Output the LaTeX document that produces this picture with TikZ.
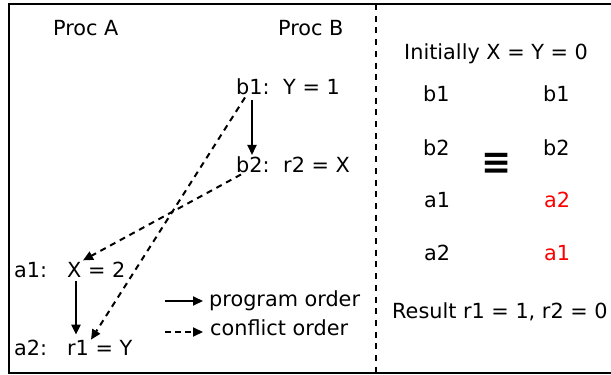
\documentclass[tikz,border=0pt]{standalone}
\usepackage{fontspec}
\setmainfont{DejaVu Sans}
\usetikzlibrary{arrows.meta}
\definecolor{redord}{RGB}{255,0,0}
\begin{document}
\begin{tikzpicture}[x=1pt,y=-1pt,
  txt/.style={inner sep=0pt,anchor=base west,font=\fontsize{20.8}{24}\selectfont},
  prog/.style={line width=2pt,-{Triangle[length=10pt,width=9pt]}},
  conf/.style={line width=2pt,dash pattern=on 6pt off 5pt,-{Triangle[length=10pt,width=9pt]}},
  frame/.style={line width=2.4pt},
  sep/.style={line width=2pt,dash pattern=on 6pt off 5.7pt}]
\useasboundingbox (0,0) rectangle (611,375);
\clip (0,0) rectangle (611,375);
\draw[frame] (9,4) rectangle (625,373);
\draw[sep] (376,4) -- (376,373);
% left panel
\node[txt] (pa) at (53,35) {Proc A};
\node[txt] (pb) at (278,35) {Proc B};
\node[txt] (b1l) at (236,94) {b1:};
\node[txt] (b1s) at (283,94) {Y = 1};
\node[txt] (b2l) at (236,172) {b2:};
\node[txt] (b2s) at (283,172) {r2 = X};
\node[txt] (a1l) at (14,277) {a1:};
\node[txt] (a1s) at (67,277) {X = 2};
\node[txt] (a2l) at (14,355) {a2:};
\node[txt] (a2s) at (67,355) {r1 = Y};
\draw[prog,shorten <=6pt] ([xshift=16pt]b1l.south west) -- ([xshift=16pt,yshift=1pt]b2l.north west);
\draw[prog,shorten <=4pt,shorten >=5pt] ([xshift=9pt]a1s.south west) -- ([xshift=9pt]a2s.north west);
\draw[conf] ([xshift=9pt,yshift=-3pt]b1l.south west) -- ([xshift=24pt]a2s.north west);
\draw[conf] ([xshift=5pt,yshift=-2pt]b2l.south west) -- ([xshift=16pt,yshift=1pt]a1s.north west);
% legend
\coordinate (lp0) at (165,301);
\coordinate (lp1) at (203,301);
\coordinate (lc0) at (165,332);
\coordinate (lc1) at (203,332);
\draw[prog] (lp0) -- (lp1);
\draw[conf,dash pattern=on 6pt off 4pt] (lc0) -- (lc1);
\node[txt] (lpt) at (209,306) {program order};
\node[txt] (lct) at (210,335) {conflict order};
% right panel
\node[txt] (init) at (404,59) {Initially X = Y = 0};
\node[txt] (l1) at (423,101) {b1};
\node[txt] (l2) at (423,155) {b2};
\node[txt] (l3) at (424,207) {a1};
\node[txt] (l4) at (424,260) {a2};
\node[txt] (r1) at (543,101) {b1};
\node[txt] (r2) at (543,155) {b2};
\node[txt,text=redord] (r3) at (544,207) {a2};
\node[txt,text=redord] (r4) at (544,260) {a1};
\node[inner sep=0pt,font=\fontsize{36}{38}\bfseries] (eq) at (497,163.5) {≡};
\node[txt] (res) at (392,318) {Result r1 = 1, r2 = 0};
\end{tikzpicture}
\end{document}
